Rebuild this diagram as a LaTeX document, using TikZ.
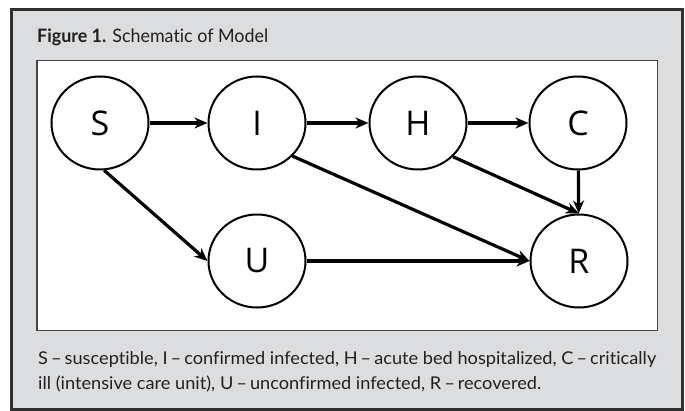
\documentclass[tikz,border=0pt]{standalone}
\usepackage{fontspec}
\usepackage{graphicx}
\setmainfont{Lato}[Ligatures={NoCommon,NoRare,TeX}]
\newfontfamily\lblfont{Open Sans}
\usetikzlibrary{shapes.geometric,arrows.meta}
\definecolor{panelgray}{HTML}{DCDDDF}
\definecolor{framedark}{HTML}{2F2F2F}
\definecolor{textdark}{HTML}{231F20}
\tikzset{
  state/.style={ellipse, draw=black, line width=2pt, fill=white, minimum width=97pt, minimum height=93pt, inner sep=0pt, font=\lblfont\fontsize{34}{34}\selectfont},
  arr/.style={line width=3.2pt, -{Stealth[length=13pt,width=11pt,inset=4pt]}},
  captext/.style={anchor=base west, inner sep=0pt, text=textdark}
}
\begin{document}
\begin{tikzpicture}[x=1pt,y=-1pt]
\useasboundingbox (0,0) rectangle (685,411);
\draw[framedark, line width=3pt, fill=panelgray] (11.5,9.5) rectangle (682,409);
\draw[framedark!90, line width=1.8pt, fill=white] (37,60.5) rectangle (657.5,330.5);
\node[captext] (title) at (37,42.7) {\resizebox{231pt}{\height}{\fontsize{18.5}{20}\selectfont\textbf{Figure 1.} Schematic of Model}};
\node[state] (S) at (100,123) {S};
\node[state] (I) at (257,123) {I};
\node[state] (H) at (418,123) {H};
\node[state] (C) at (578,123) {C};
\node[state] (U) at (257,261) {U};
\node[state] (R) at (579,261) {R};
\draw[arr] (S) -- (I);
\draw[arr] (I) -- (H);
\draw[arr] (H) -- (C);
\draw[arr] (C) -- (R);
\draw[arr] (S.-85) -- (U.west);
\draw[arr] (I.-43) -- (R.west);
\draw[arr] (H.-44) -- (R.north);
\draw[arr] (U) -- (R);
\node[captext] (cap1) at (38,364) {\resizebox{618pt}{\height}{\fontsize{17.6}{20}\selectfont S\,–\,susceptible, I\,–\,confirmed infected, H\,–\,acute bed hospitalized, C\,–\,critically}};
\node[captext] (cap2) at (38,389.3) {\resizebox{503pt}{\height}{\fontsize{17.6}{20}\selectfont ill (intensive care unit), U\,–\,unconfirmed infected, R\,–\,recovered.}};
\end{tikzpicture}
\end{document}
